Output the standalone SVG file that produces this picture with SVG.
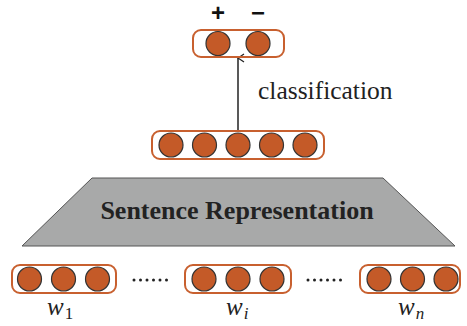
<svg xmlns="http://www.w3.org/2000/svg" width="467" height="326" viewBox="0 0 467 326">
<style>
.box{fill:none;stroke:#c8602f;stroke-width:2}
.n{fill:#c45a28;stroke:#333;stroke-width:1.2}
.lbl{font-family:"Liberation Serif","Times New Roman",serif;fill:#222}
.sign{font-family:"Liberation Sans",Arial,sans-serif;font-weight:bold;font-size:24px;fill:#111}
.w{font-family:"Liberation Serif","Times New Roman",serif;font-style:italic;font-size:25px;fill:#222}
.sub{font-style:normal;font-size:17px}
.subi{font-style:italic;font-size:17px}
.dot{fill:#222}
</style>
<defs>
<marker id="ah" markerWidth="10" markerHeight="10" refX="5" refY="1" orient="auto-start-reverse" markerUnits="userSpaceOnUse" viewBox="0 0 10 10">
<path d="M1,7 L5,1 L9,7" fill="none" stroke="#222" stroke-width="1.3"/>
</marker>
</defs>
<rect width="467" height="326" fill="#fff"/>
<g id="connectors">
<line x1="238" y1="131" x2="238" y2="58" stroke="#222" stroke-width="1.5" marker-end="url(#ah)"/>
</g>
<g id="output">
<text class="sign" x="218" y="21" text-anchor="middle">+</text>
<text class="sign" x="258" y="21" text-anchor="middle">−</text>
<rect class="box" x="193" y="30" width="91" height="27" rx="8"/>
<circle class="n" cx="218" cy="43.5" r="12"/>
<circle class="n" cx="258" cy="43.5" r="12"/>
</g>
<g id="classification-label">
<text class="lbl" x="258" y="99" font-size="25.5">classification</text>
</g>
<g id="sentence-vector">
<rect class="box" x="152" y="131" width="172" height="28" rx="8"/>
<circle class="n" cx="171" cy="145" r="12"/>
<circle class="n" cx="204.5" cy="145" r="12"/>
<circle class="n" cx="238" cy="145" r="12"/>
<circle class="n" cx="271.5" cy="145" r="12"/>
<circle class="n" cx="305" cy="145" r="12"/>
</g>
<g id="sentence-representation">
<polygon points="92,178 383,178 455,246 22,246" fill="#a8a9a9" stroke="#555" stroke-width="1"/>
<text class="lbl" x="237" y="219" font-size="26" font-weight="bold" text-anchor="middle">Sentence Representation</text>
</g>
<g id="word1">
<rect class="box" x="12" y="265" width="104" height="28" rx="8"/>
<circle class="n" cx="29.5" cy="279" r="12"/>
<circle class="n" cx="63.5" cy="279" r="12"/>
<circle class="n" cx="97.5" cy="279" r="12"/>
<text class="w" x="47" y="315">w<tspan class="sub" dx="1" dy="4">1</tspan></text>
</g>
<g id="dots1">
<circle class="dot" cx="134" cy="280" r="1.5"/><circle class="dot" cx="140.5" cy="280" r="1.5"/><circle class="dot" cx="147" cy="280" r="1.5"/><circle class="dot" cx="153.5" cy="280" r="1.5"/><circle class="dot" cx="160" cy="280" r="1.5"/><circle class="dot" cx="166.5" cy="280" r="1.5"/>
</g>
<g id="wordi">
<rect class="box" x="185" y="265" width="106" height="28" rx="8"/>
<circle class="n" cx="204" cy="279" r="12"/>
<circle class="n" cx="238" cy="279" r="12"/>
<circle class="n" cx="272" cy="279" r="12"/>
<text class="w" x="226" y="315">w<tspan class="subi" dx="1" dy="4">i</tspan></text>
</g>
<g id="dots2">
<circle class="dot" cx="308" cy="280" r="1.5"/><circle class="dot" cx="314.5" cy="280" r="1.5"/><circle class="dot" cx="321" cy="280" r="1.5"/><circle class="dot" cx="327.5" cy="280" r="1.5"/><circle class="dot" cx="334" cy="280" r="1.5"/><circle class="dot" cx="340.5" cy="280" r="1.5"/>
</g>
<g id="wordn">
<rect class="box" x="360" y="265" width="100" height="28" rx="8"/>
<circle class="n" cx="379" cy="279" r="12"/>
<circle class="n" cx="412.5" cy="279" r="12"/>
<circle class="n" cx="446" cy="279" r="12"/>
<text class="w" x="398" y="315">w<tspan class="subi" dx="1" dy="4">n</tspan></text>
</g>
</svg>
